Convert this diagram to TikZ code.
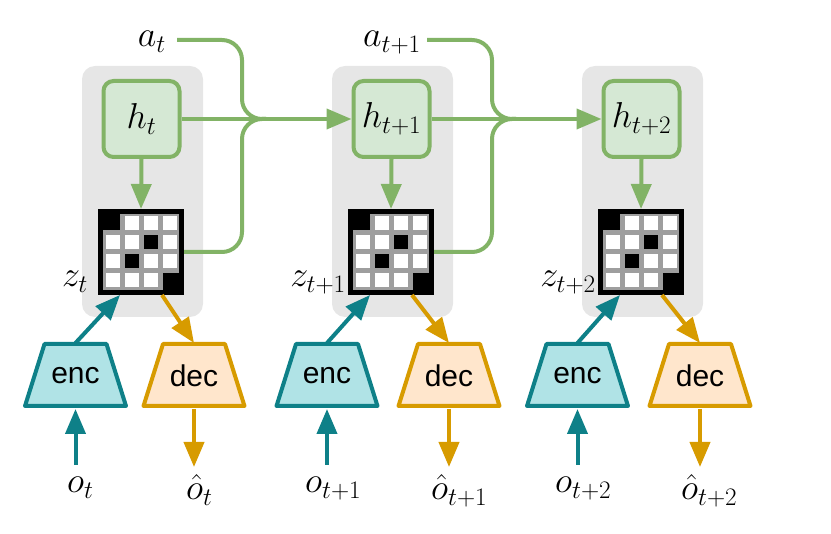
\RequirePackage{fix-cm}
\documentclass[tikz,border=0pt]{standalone}
\usepackage{fontspec}
\newfontfamily\sansf{Liberation Sans}
\usetikzlibrary{arrows.meta,calc}
\definecolor{gD}{HTML}{82B366}
\definecolor{gF}{HTML}{D5E8D4}
\definecolor{tD}{HTML}{0E8088}
\definecolor{tF}{HTML}{B0E3E6}
\definecolor{oD}{HTML}{D79B00}
\definecolor{oF}{HTML}{FFE6CC}
\definecolor{panelc}{HTML}{E6E6E6}
\definecolor{gridg}{HTML}{9E9E9E}
\tikzset{
  mfont/.style={font=\fontsize{36}{40}\selectfont},
  lbl/.style={mfont,inner sep=0pt},
  panel/.style={fill=panelc,rounded corners=13pt,minimum width=121pt,minimum height=251pt,inner sep=0pt},
  hbox/.style={draw=gD,fill=gF,line width=4pt,rounded corners=10pt,minimum width=76pt,minimum height=76pt,inner sep=0pt,mfont},
  gridnode/.style={fill=black,minimum width=86pt,minimum height=86pt,inner sep=0pt,outer sep=0pt},
  trapnode/.style={minimum width=105pt,minimum height=66pt,inner sep=0pt,outer sep=0pt,font=\sansf\fontsize{30}{34}\selectfont},
  trapz/.pic={
    \path[line width=4pt,line join=round,pic actions] (-50.5,31) -- (50.5,31) -- (31,-31) -- (-31,-31) -- cycle;
  },
  gline/.style={draw=gD,line width=4pt},
  tip/.style={-{Triangle[length=25pt,width=20pt]}},
  garrow/.style={gline,tip},
  tarrow/.style={draw=tD,line width=4pt,tip},
  oarrow/.style={draw=oD,line width=4pt,tip},
  gridpic/.pic={
    \fill[black] (-43,-43) rectangle (43,43);
    \fill[gridg] (-38,-38) rectangle (38,38);
    \fill[black] (-43,-43) rectangle (-21.5,-21.5);
    \fill[black] (21.5,21.5) rectangle (43,43);
    \foreach \i/\j in {1/0,2/0,3/0,0/1,1/1,3/1,0/2,2/2,3/2,0/3,1/3,2/3}
      \fill[white] (-38+19*\i+2.5,-38+19*\j+2.5) rectangle ++(14,14);
    \foreach \i/\j in {2/1,1/2}
      \fill[black] (-38+19*\i+2.5,-38+19*\j+2.5) rectangle ++(14,14);
  }
}
\begin{document}
\begin{tikzpicture}[x=1pt,y=-1pt]
\useasboundingbox (0,0) rectangle (831,534);
% panels
\node[panel] (p0) at (142.5,191.5) {};
\node[panel] (p1) at (392.5,191.5) {};
\node[panel] (p2) at (642.5,191.5) {};
% h boxes
\node[hbox] (h0) at (141.5,119) {$h_t$};
\node[hbox] (h1) at (391.5,119) {$h_{t+1}$};
\node[hbox] (h2) at (641.5,119) {$h_{t+2}$};
% grids
\node[gridnode] (z0) at (141,252) {};
\node[gridnode] (z1) at (391,252) {};
\node[gridnode] (z2) at (641,252) {};
\pic at (141,252) {gridpic};
\pic at (391,252) {gridpic};
\pic at (641,252) {gridpic};
% z labels
\node[lbl,anchor=base east] (lz0) at (88,287) {$z_t$};
\node[lbl,anchor=base east] (lz1) at (346,287) {$z_{t+1}$};
\node[lbl,anchor=base east] (lz2) at (596,287) {$z_{t+2}$};
% a labels
\node[lbl,anchor=base east] (la0) at (166,47) {$a_t$};
\node[lbl,anchor=base east] (la1) at (421,47) {$a_{t+1}$};
\coordinate (as0) at (177,40);
\coordinate (as1) at (427,40);
% enc / dec shapes
\pic[draw=tD,fill=tF] at (75.5,375) {trapz};
\pic[draw=tD,fill=tF] at (327,375) {trapz};
\pic[draw=tD,fill=tF] at (577.5,375) {trapz};
\pic[draw=oD,fill=oF] at (194,375) {trapz};
\pic[draw=oD,fill=oF] at (449,375) {trapz};
\pic[draw=oD,fill=oF] at (700,375) {trapz};
\node[trapnode] (e0) at (75.5,376) {enc};
\node[trapnode] (e1) at (327,376) {enc};
\node[trapnode] (e2) at (577.5,376) {enc};
\node[trapnode] (d0) at (194,376) {dec};
\node[trapnode] (d1) at (449,376) {dec};
\node[trapnode] (d2) at (700,376) {dec};
% bottom labels
\node[lbl,anchor=base west] (lo0) at (67,493) {$o_t$};
\node[lbl,anchor=base west] (lo1) at (305,493) {$o_{t+1}$};
\node[lbl,anchor=base west] (lo2) at (555,493) {$o_{t+2}$};
\node[lbl,anchor=base west] (ld0) at (186,500) {$\hat{o}_t$};
\node[lbl,anchor=base west] (ld1) at (431,500) {$\hat{o}_{t+1}$};
\node[lbl,anchor=base west] (ld2) at (681,500) {$\hat{o}_{t+2}$};
\coordinate (oi0) at (75.5,465);
\coordinate (oi1) at (327,465);
\coordinate (oi2) at (577.5,465);
\coordinate (do0) at (194,467);
\coordinate (do1) at (449,467);
\coordinate (do2) at (700,467);
% green connectors
\foreach \k in {0,1,2} \draw[garrow] (h\k.south) -- (z\k.north);
\draw[gline,rounded corners=20pt] (as0) -- (242,40) -- (242,119) -- (266,119);
\draw[gline,rounded corners=20pt] (z0.east) -- (242,252) -- (242,119) -- (266,119);
\draw[garrow] (h0.east) -- (h1.west);
\draw[gline,rounded corners=20pt] (as1) -- (492,40) -- (492,119) -- (516,119);
\draw[gline,rounded corners=20pt] (z1.east) -- (492,252) -- (492,119) -- (516,119);
\draw[garrow] (h1.east) -- (h2.west);
% enc/dec connectors
\foreach \k in {0,1,2} {
  \draw[tarrow] (e\k.north) -- ($(z\k.south)+(-21,0)$);
  \draw[oarrow] ($(z\k.south)+(21,0)$) -- (d\k.north);
  \draw[tarrow] (oi\k) -- (e\k.south);
  \draw[oarrow] (d\k.south) -- (do\k);
}
\end{tikzpicture}
\end{document}
